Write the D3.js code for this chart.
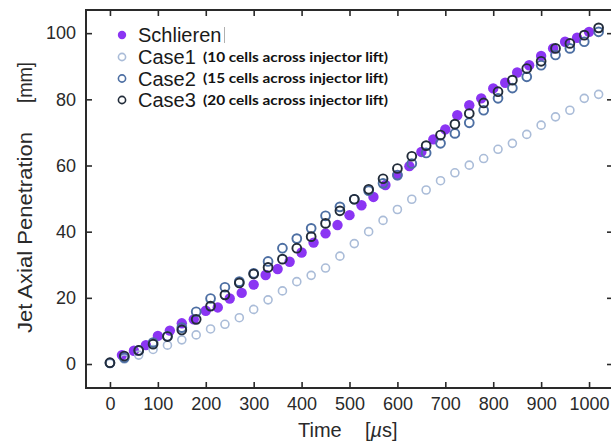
<!DOCTYPE html>
<html>
<head>
<meta charset="utf-8">
<script src="https://cdn.jsdelivr.net/npm/d3@7"></script>
<style>
  html, body { margin: 0; padding: 0; background: #fff; }
  svg { display: block; }
  text { font-family: "Liberation Sans", Arial, sans-serif; }
</style>
</head>
<body>
<svg id="chart" width="611" height="446"></svg>
<script>
// ---- data ----
const schlierenTime = [25,50,75,100,125,150,175,200,225,250,275,300,325,350,375,400,425,450,475,500,
  525,550,575,600,625,650,675,700,725,750,775,800,825,850,875,900,925,950,975,1000];
const schlierenValues = [2.7,4.0,5.7,8.5,10.1,12.3,13.5,16.1,17.1,19.8,21.5,24.0,26.9,28.7,30.9,33.7,36.7,39.5,42.0,45.0,
  48.0,50.5,54.1,57.1,59.8,64.1,67.9,70.9,75.2,78.2,80.3,83.3,85.0,88.1,90.3,93.1,95.4,97.4,98.6,100.4];

const caseTime = [0,30,60,90,120,150,180,210,240,270,300,330,360,390,420,450,480,510,540,570,
  600,630,660,690,720,750,780,810,840,870,900,930,960,990,1020];
const case1Values = [0.2,1.5,2.7,4.4,5.7,7.3,8.8,10.6,12.0,14.0,16.5,19.4,22.1,24.9,26.8,29.0,32.6,36.4,40.0,43.4,
  46.7,49.8,52.6,55.4,57.8,60.1,62.1,64.9,66.7,69.4,72.2,74.7,76.7,80.3,81.5];
const case2Values = [0.3,1.9,4.1,6.5,8.4,11.0,15.8,19.8,23.2,24.9,27.4,31.0,35.0,37.9,41.0,44.8,47.5,49.8,52.4,54.6,
  57.1,60.6,63.8,66.7,69.7,72.9,76.7,80.3,83.4,86.8,90.3,93.4,95.4,97.4,100.4];
const case3Values = [0.4,2.4,4.1,6.0,8.3,10.3,13.5,17.5,20.9,24.5,27.2,29.2,31.7,35.0,38.5,42.5,46.3,49.8,52.8,56.0,
  59.1,62.8,66.0,69.2,72.5,75.7,78.9,82.3,85.8,89.3,91.5,95.4,96.9,99.4,101.6];

const xTicks = [0,100,200,300,400,500,600,700,800,900,1000];
const yTicks = [0,20,40,60,80,100];

const legendNames = ["Schlieren","Case1","Case2","Case3"];
const legendNotes = ["","(10 cells across injector lift)","(15 cells across injector lift)","(20 cells across injector lift)"];
const seriesColors = ["#8b35f3","#aabcd8","#4d6fa3","#222c3a"];

// ---- layout ----
const svg = d3.select("#chart");
const L = 86, R = 613, T = 10, B = 388;
const x = d3.scaleLinear().domain([-50, 1050]).range([L, R]);
const y = d3.scaleLinear().domain([-7.25, 107]).range([B, T]);
const axisColor = "#2a2a2a";
const tickLen = 6;

// box
const frame = svg.append("g");
frame.append("rect").attr("x", L).attr("y", T).attr("width", R - L).attr("height", B - T)
  .attr("fill", "none").attr("stroke", axisColor).attr("stroke-width", 2);

// axes (ticks inward)
const xAxisB = d3.axisBottom(x).tickValues(xTicks).tickSize(-tickLen).tickPadding(9).tickFormat(d3.format("d"));
const gxb = svg.append("g").attr("transform", `translate(0,${B})`).call(xAxisB);
const xAxisT = d3.axisTop(x).tickValues(xTicks).tickSize(-tickLen).tickFormat("");
const gxt = svg.append("g").attr("transform", `translate(0,${T})`).call(xAxisT);
const yAxisL = d3.axisLeft(y).tickValues(yTicks).tickSize(-tickLen).tickPadding(10).tickFormat(d3.format("d"));
const gyl = svg.append("g").attr("transform", `translate(${L},0)`).call(yAxisL);
const yAxisR = d3.axisRight(y).tickValues(yTicks).tickSize(-tickLen).tickFormat("");
const gyr = svg.append("g").attr("transform", `translate(${R},0)`).call(yAxisR);

[gxb, gxt, gyl, gyr].forEach(g => {
  g.select(".domain").remove();
  g.selectAll(".tick line").attr("stroke", axisColor).attr("stroke-width", 1.6);
  g.selectAll(".tick text").attr("fill", "#2a2a2a").style("font-size", "18px")
    .style("font-family", "'Liberation Sans', Arial, sans-serif");
});

// axis titles
const xt = svg.append("text").attr("y", 437).attr("fill", "#2a2a2a").style("font-size", "20px");
xt.append("tspan").attr("x", 298).text("Time");
xt.append("tspan").attr("x", 365).text("[");
xt.append("tspan").style("font-style", "italic").text("\u00b5");
xt.append("tspan").text("s]");

const yt = svg.append("text").attr("transform", "translate(32,333) rotate(-90)")
  .attr("fill", "#2a2a2a").style("font-size", "20px");
yt.append("tspan").attr("x", 0).attr("textLength", 201).attr("lengthAdjust", "spacingAndGlyphs").text("Jet Axial Penetration");
yt.append("tspan").attr("x", 230).attr("textLength", 41).attr("lengthAdjust", "spacingAndGlyphs").text("[mm]");

// ---- data marks ----
const plot = svg.append("g");
plot.selectAll("circle.schlieren").data(schlierenTime.map((t, i) => [t, schlierenValues[i]]))
  .enter().append("circle").attr("class", "schlieren")
  .attr("cx", d => x(d[0])).attr("cy", d => y(d[1])).attr("r", 5.2)
  .attr("fill", seriesColors[0]);

const cases = [case1Values, case2Values, case3Values];
const radii = [4.0, 4.4, 4.4];
const widths = [1.6, 1.9, 1.9];
cases.forEach((vals, k) => {
  plot.selectAll(`circle.case${k + 1}`).data(caseTime.map((t, i) => [t, vals[i]]))
    .enter().append("circle").attr("class", `case${k + 1}`)
    .attr("cx", d => x(d[0])).attr("cy", d => y(d[1])).attr("r", radii[k])
    .attr("fill", "none").attr("stroke", seriesColors[k + 1]).attr("stroke-width", widths[k]);
});

// ---- legend ----
const leg = svg.append("g");
const rowY = [35, 57, 78.5, 100];
legendNames.forEach((name, i) => {
  if (i === 0) {
    leg.append("circle").attr("cx", 122).attr("cy", rowY[i]).attr("r", 4.2).attr("fill", seriesColors[0]);
  } else {
    leg.append("circle").attr("cx", 122).attr("cy", rowY[i]).attr("r", 3.6)
      .attr("fill", "none").attr("stroke", seriesColors[i]).attr("stroke-width", 1.6);
  }
  leg.append("text").attr("x", 138).attr("y", rowY[i] + 7).attr("fill", "#1a1a1a")
    .style("font-size", "20px").text(name);
  if (legendNotes[i]) {
    leg.append("text").attr("x", 203).attr("y", rowY[i] + 4.8).attr("fill", "#111")
      .style("font-family", "Lato, 'Open Sans', sans-serif").style("font-weight", "bold")
      .style("font-size", "13px").attr("textLength", 185).attr("lengthAdjust", "spacingAndGlyphs")
      .text(legendNotes[i]);
  }
});
// thin text-cursor mark after "Schlieren"
leg.append("line").attr("x1", 224.5).attr("x2", 224.5).attr("y1", 27).attr("y2", 43)
  .attr("stroke", "#b0b0b0").attr("stroke-width", 1);
</script>
</body>
</html>
